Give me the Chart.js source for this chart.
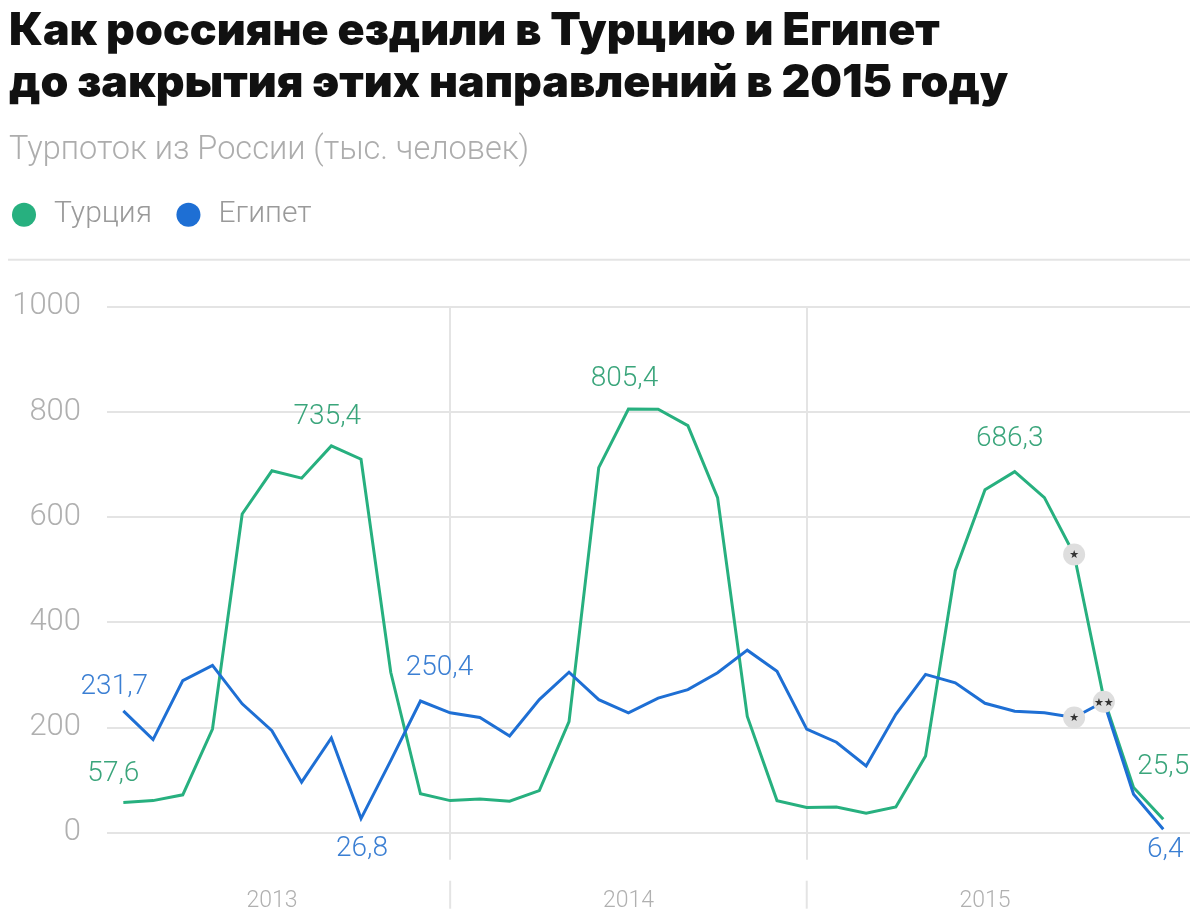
<!DOCTYPE html>
<html>
<head>
<meta charset="utf-8">
<script src="https://cdn.jsdelivr.net/npm/chart.js@4.4.1/dist/chart.umd.min.js"></script>
<style>
  html, body { margin: 0; padding: 0; background: #fff; overflow: hidden; }
  #wrap { position: absolute; left: 0; top: 0; width: 1191px; height: 920px; }
</style>
</head>
<body>
<div id="wrap"><canvas id="chart"></canvas></div>
<script>
// месяцы янв 2013 – дек 2015
const months = [
  '01.2013','02.2013','03.2013','04.2013','05.2013','06.2013','07.2013','08.2013','09.2013','10.2013','11.2013','12.2013',
  '01.2014','02.2014','03.2014','04.2014','05.2014','06.2014','07.2014','08.2014','09.2014','10.2014','11.2014','12.2014',
  '01.2015','02.2015','03.2015','04.2015','05.2015','06.2015','07.2015','08.2015','09.2015','10.2015','11.2015','12.2015'
];
const years = ['2013', '2014', '2015'];

// турпоток, тыс. человек
const turkey = [57.6, 61, 72, 197, 606, 688, 674, 735.4, 710, 305, 74, 61,
                64, 60, 80, 211, 694, 805.4, 805, 774, 637, 221, 61, 48,
                49, 37, 49, 146, 498, 652, 686.3, 637, 529, 255, 86, 25.5];
const egypt  = [231.7, 177, 289, 318, 245, 194, 96, 180, 26.8, 137, 250.4, 228,
                219, 184, 253, 305, 253, 228, 256, 272, 304, 347, 307, 197,
                172, 127, 225, 301, 285, 246, 231, 228, 219, 249, 73, 6.4];

// подписанные точки и сноски
const turkeyLabeled = [0, 7, 17, 30, 35];
const egyptLabeled = [0, 8, 10, 35];
const turkeyNotes = { 32: '★' };
const egyptNotes = { 32: '★', 33: '★★' };

const GREEN = '#27b07f', GREEN_TXT = '#3aa57b';
const BLUE = '#1e6fd4', BLUE_TXT = '#3b7fd3';
const GRID = '#e4e4e4';
const LIGHT = 'Roboto';

// смещения подписей значений
const labelOffsets = {
  turkey: { 0: [-10, -28], 7: [-4, -29], 17: [-4, -30], 30: [-5, -33], 35: [0, -52] },
  egypt:  { 0: [-9, -24], 8: [1, 30], 10: [19, -33], 35: [2, 21] }
};

const fmt = v => String(v).replace('.', ',');
const pts = arr => arr.map((v, i) => ({ x: i, y: v }));

// позиции меток по оси X берём из категорий: середина года и граница года
const yearMid = {};
const yearEdges = [];
months.forEach((m, i) => {
  const [mm, yy] = m.split('.');
  if (mm === '06') yearMid[i] = yy;
  if (mm === '12' && i < months.length - 1) yearEdges.push(i);
});

const noteRadius = notes => c => notes[c.dataIndex] ? 11 : 0;
const noteFill = (notes, color) => c => notes[c.dataIndex] ? '#dedede' : color;

const valueLabels = {
  id: 'valueLabels',
  afterDatasetsDraw(chart) {
    const ctx = chart.ctx;
    chart.data.datasets.forEach((ds, di) => {
      const meta = chart.getDatasetMeta(di);
      ctx.save();
      ctx.textBaseline = 'middle';
      // сноски
      ctx.fillStyle = '#333';
      ctx.font = '11px "DejaVu Sans"';
      ctx.textAlign = 'center';
      Object.keys(ds.notes).forEach(k => {
        const p = meta.data[k];
        ctx.fillText(ds.notes[k], p.x, p.y + 1);
      });
      // значения
      ctx.fillStyle = ds.labelColor;
      ctx.font = '300 28px ' + LIGHT;
      ds.labeled.forEach(i => {
        const p = meta.data[i];
        const off = ds.offsets[i] || [0, -28];
        ctx.fillText(fmt(ds.data[i].y), p.x + off[0], p.y + off[1]);
      });
      ctx.restore();
    });
  }
};

const decor = {
  id: 'decor',
  beforeLayout(chart) {
    if (chart.legend && !chart.legend._patched) {
      const fit = chart.legend.fit;
      chart.legend.fit = function () { fit.call(this); this.height += 67; };
      chart.legend._patched = true;
    }
  },
  beforeDatasetsDraw(chart) {
    const ctx = chart.ctx, a = chart.chartArea, x = chart.scales.x;
    ctx.save();
    ctx.strokeStyle = GRID;
    ctx.lineWidth = 2;
    // линия под легендой
    ctx.beginPath();
    ctx.moveTo(8, a.top - 47);
    ctx.lineTo(a.right, a.top - 47);
    ctx.stroke();
    // засечки между годами под осью
    yearEdges.forEach(i => {
      const px = x.getPixelForValue(i);
      ctx.beginPath();
      ctx.moveTo(px, a.bottom + 48);
      ctx.lineTo(px, a.bottom + 76);
      ctx.stroke();
    });
    ctx.restore();
  }
};

new Chart(document.getElementById('chart'), {
  type: 'line',
  data: {
    datasets: [
      {
        label: 'Египет',
        data: pts(egypt),
        borderColor: BLUE,
        backgroundColor: BLUE,
        borderWidth: 3,
        tension: 0,
        pointRadius: noteRadius(egyptNotes),
        pointBackgroundColor: noteFill(egyptNotes, BLUE),
        pointBorderWidth: 0,
        labelColor: BLUE_TXT,
        labeled: egyptLabeled,
        notes: egyptNotes,
        offsets: labelOffsets.egypt
      },
      {
        label: 'Турция',
        data: pts(turkey),
        borderColor: GREEN,
        backgroundColor: GREEN,
        borderWidth: 3,
        tension: 0,
        pointRadius: noteRadius(turkeyNotes),
        pointBackgroundColor: noteFill(turkeyNotes, GREEN),
        pointBorderWidth: 0,
        labelColor: GREEN_TXT,
        labeled: turkeyLabeled,
        notes: turkeyNotes,
        offsets: labelOffsets.turkey
      }
    ]
  },
  options: {
    responsive: true,
    maintainAspectRatio: false,
    animation: false,
    layout: { padding: { left: 9, right: 1, top: 0, bottom: 0 } },
    plugins: {
      tooltip: { enabled: false },
      title: {
        display: true,
        align: 'start',
        text: ['Как россияне ездили в Турцию и Египет', 'до закрытия этих направлений в 2015 году'],
        color: '#111',
        font: { family: 'Inter', size: 44.7, weight: '900', lineHeight: 1.16 },
        padding: { top: 6, bottom: 0 }
      },
      subtitle: {
        display: true,
        align: 'start',
        text: 'Турпоток из России (тыс. человек)',
        color: '#adadad',
        font: { family: LIGHT, size: 32.5, weight: '300', lineHeight: 1.2 },
        padding: { top: 22, bottom: 29 }
      },
      legend: {
        align: 'start',
        labels: {
          usePointStyle: true,
          boxWidth: 30,
          boxHeight: 17,
          padding: 0,
          color: '#9a9a9a',
          font: { family: LIGHT, size: 30, weight: '300' },
          sort: (a, b) => b.datasetIndex - a.datasetIndex,
          generateLabels(chart) {
            const items = Chart.defaults.plugins.legend.labels.generateLabels(chart);
            items.forEach(it => { if (it.text === 'Турция') it.text += '\u2002\u2009'; });
            return items;
          }
        }
      }
    },
    scales: {
      x: {
        type: 'linear',
        min: -0.55,
        max: 35.9,
        border: { display: false },
        afterBuildTicks(scale) {
          scale.ticks = Object.keys(yearMid).concat(yearEdges).map(v => ({ value: +v })).sort((a, b) => a.value - b.value);
        },
        afterFit(scale) { scale.height = 87.3; },
        grid: {
          color: c => yearEdges.includes(c.tick && c.tick.value) ? GRID : 'rgba(0,0,0,0)',
          lineWidth: 2,
          tickLength: 27
        },
        ticks: {
          autoSkip: false,
          maxRotation: 0,
          padding: 28,
          color: '#b0b0b0',
          font: { family: LIGHT, size: 23, weight: '300' },
          callback: v => yearMid[v] || ''
        }
      },
      y: {
        min: 0,
        max: 1000,
        border: { display: false },
        afterFit(scale) { scale.width = 98; },
        grid: { color: GRID, lineWidth: 2, drawTicks: false },
        ticks: {
          stepSize: 200,
          padding: 26,
          color: '#b0b0b0',
          font: { family: LIGHT, size: 31, weight: '300' },
          callback: v => String(v)
        }
      }
    }
  },
  plugins: [valueLabels, decor]
});
</script>
</body>
</html>
